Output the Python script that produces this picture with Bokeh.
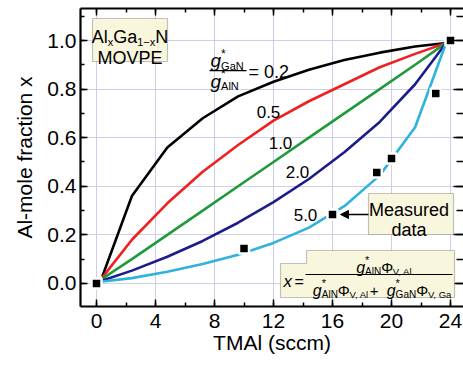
from bokeh.plotting import figure
from bokeh.models import (Range1d, LinearAxis, SingleIntervalTicker, PrintfTickFormatter,
                          Label, Arrow, NormalHead, PolyAnnotation, BoxAnnotation, ColumnDataSource)
from bokeh.embed import file_html
from bokeh.resources import INLINE

# ---------------- data ----------------
tmal = [0.4, 2.4, 4.8, 7.2, 9.6, 12.0, 14.4, 16.8, 19.2, 21.6, 23.7]
x_r02 = [0.03, 0.36, 0.56, 0.68, 0.77, 0.83, 0.88, 0.92, 0.95, 0.975, 0.99]
x_r05 = [0.025, 0.18, 0.33, 0.46, 0.57, 0.67, 0.75, 0.82, 0.89, 0.945, 0.99]
x_r10 = [0.02, 0.10, 0.20, 0.30, 0.40, 0.50, 0.60, 0.70, 0.80, 0.90, 0.99]
x_r20 = [0.012, 0.053, 0.11, 0.175, 0.25, 0.335, 0.43, 0.54, 0.665, 0.82, 0.99]
x_r50 = [0.008, 0.022, 0.048, 0.08, 0.118, 0.167, 0.23, 0.318, 0.445, 0.643, 0.99]
ratio_labels = ["0.2", "0.5", "1.0", "2.0", "5.0"]

meas_tmal = [0.0, 10.0, 16.0, 19.0, 20.0, 23.0, 24.0]
meas_x = [0.0, 0.144, 0.284, 0.457, 0.514, 0.782, 1.0]

x_ticks_interval = 4
y_ticks_interval = 0.2

FONT = "Liberation Sans"
COLORS = ["#000000", "#ee2020", "#1f9a3a", "#1c1c8c", "#2fb2dc"]
BOX_FILL = "#f8f6dc"
BOX_LINE = "#3a3a3a"

# ---------------- figure ----------------
X0, X1 = -1.085, 24.88
Y0, Y1 = -0.0947, 1.1317
p = figure(frame_width=383, frame_height=298,
           x_range=Range1d(X0, X1), y_range=Range1d(Y0, Y1),
           output_backend="svg", toolbar_location=None,
           min_border_left=80, min_border_right=0, min_border_top=8, min_border_bottom=40,
           background_fill_color="white", border_fill_color="white")
p.outline_line_color = None

# reference pixel -> data helpers (layout only)
def X(px):
    return (px - 96) / 14.75

def Y(py):
    return (283 - py) / 243.0

xt = SingleIntervalTicker(interval=x_ticks_interval, num_minor_ticks=2)
yt = SingleIntervalTicker(interval=y_ticks_interval, num_minor_ticks=2)

for ax in p.xaxis:
    ax.ticker = xt
for ax in p.yaxis:
    ax.ticker = yt
    ax.formatter = PrintfTickFormatter(format="%.1f")

def style_axis(ax, labels=True):
    ax.axis_line_width = 2.2
    ax.axis_line_color = "black"
    ax.major_tick_in = 7
    ax.major_tick_out = 0
    ax.minor_tick_in = 4
    ax.minor_tick_out = 0
    ax.major_tick_line_width = 1.5
    ax.minor_tick_line_width = 1.5
    ax.major_tick_line_color = "black"
    ax.minor_tick_line_color = "black"
    if labels:
        ax.major_label_text_font = FONT
        ax.major_label_text_font_size = "21px"
        ax.major_label_text_color = "black"
        ax.axis_label_text_font = FONT
        ax.axis_label_text_font_size = "21px"
        ax.axis_label_text_font_style = "normal"
        ax.axis_label_text_color = "black"
    else:
        ax.major_label_text_font_size = "0px"
        ax.major_label_standoff = 0

style_axis(p.xaxis[0])
style_axis(p.yaxis[0])
p.xaxis[0].axis_label = "TMAl (sccm)"
p.yaxis[0].axis_label = "Al-mole fraction x"
p.xaxis[0].major_label_standoff = 7
p.xaxis[0].axis_label_standoff = 0
p.yaxis[0].major_label_standoff = 4
p.yaxis[0].axis_label_standoff = 8

top_ax = LinearAxis(ticker=xt)
style_axis(top_ax, labels=False)
p.add_layout(top_ax, "above")
right_ax = LinearAxis(ticker=yt)
style_axis(right_ax, labels=False)
right_ax.axis_line_color = None
right_ax.major_tick_in = 10
right_ax.minor_tick_in = 7
p.add_layout(right_ax, "right")

p.xgrid.ticker = xt
p.ygrid.ticker = yt
p.grid.grid_line_color = "#cfcfea"
p.grid.grid_line_width = 1

# ---------------- curves ----------------
series = [x_r02, x_r05, x_r10, x_r20, x_r50]
for vals, col in zip(series, COLORS):
    p.line(tmal, vals, line_color=col, line_width=2.6)

src = ColumnDataSource(dict(t=meas_tmal, x=meas_x))
p.scatter("t", "x", source=src, marker="square", size=10, fill_color="black",
          line_color="white", line_width=2.5)

# ---------------- rich text helper ----------------
W = {'A': .667, 'l': .222, 'x': .5, 'G': .778, 'a': .556, '1': .556, '\u2212': .584,
     'N': .722, 'g': .556, '*': .389, '\u03a6': .78, 'V': .667, ',': .278, ' ': .278,
     '+': .584, '=': .584, 'M': .833, 'O': .778, 'P': .667, 'E': .667, '0': .556,
     '.': .278, '2': .556}

def seg_w(t, s):
    return sum(W.get(c, .556) for c in t) * s

def rich(segs, x_px, base_px, anchor="left"):
    total = sum(seg_w(t, s) for (t, s, dy, it, adv) in segs if adv)
    x = x_px - total / 2 if anchor == "center" else x_px
    for t, s, dy, it, adv in segs:
        p.add_layout(Label(x=X(x), y=Y(base_px + dy), text=t, text_font=FONT,
                           text_font_size=f"{s}px",
                           text_font_style="italic" if it else "normal",
                           text_baseline="alphabetic", text_align="left",
                           text_color="black"))
        if adv:
            x += seg_w(t, s)

# ---------------- AlGaN / MOVPE box ----------------
p.add_layout(BoxAnnotation(left=X(92), right=X(167), top=Y(18), bottom=Y(61),
                           fill_color=BOX_FILL, fill_alpha=1, line_color=BOX_LINE,
                           line_width=1.2, level="annotation"))
rich([("Al", 18, 0, False, True), ("x", 11, 5, False, True), ("Ga", 18, 0, False, True),
      ("1\u2212x", 11, 5, False, True), ("N", 18, 0, False, True)], 129.5, 36, "center")
rich([("MOVPE", 18, 0, False, True)], 129.5, 57, "center")

# ---------------- ratio fraction label ----------------
rich([("g", 19, 0, True, True), ("*", 12, -7, False, False), ("GaN", 11, 5, False, True)],
     210, 60)
p.add_layout(BoxAnnotation(left=X(209), right=X(246), top=Y(69.6), bottom=Y(70.8),
                           fill_color="black", fill_alpha=1, line_color=None))
rich([("g", 19, 0, True, True), ("*", 12, -7, False, False), ("AlN", 11, 5, False, True)],
     210, 81)
rich([("= " + ratio_labels[0], 18, 0, False, True)], 248, 72)

# curve labels
for txt, (cx, cy) in zip(ratio_labels[1:], [(268, 112), (280, 143), (297, 172), (305, 215)]):
    p.add_layout(Label(x=X(cx), y=Y(cy), text=txt, text_font=FONT, text_font_size="17px",
                       text_align="center", text_baseline="middle", text_color="black"))

# ---------------- Measured data box ----------------
p.add_layout(BoxAnnotation(left=X(368), right=X(453), top=Y(193), bottom=Y(234),
                           fill_color=BOX_FILL, fill_alpha=1, line_color=BOX_LINE,
                           line_width=1.2))
rich([("Measured", 18, 0, False, True)], 411, 210, "center")
rich([("data", 18, 0, False, True)], 411, 230, "center")
p.add_layout(Arrow(x_start=X(368), y_start=Y(214), x_end=X(340), y_end=Y(214),
                   line_width=1.6, line_color="black",
                   end=NormalHead(size=8, fill_color="black", line_color="black")))

# ---------------- formula box ----------------
p.add_layout(PolyAnnotation(xs=[X(280), X(306), X(306), X(454), X(454), X(280)],
                            ys=[Y(263), Y(263), Y(250), Y(250), Y(297), Y(297)],
                            fill_color=BOX_FILL, fill_alpha=1, line_color=BOX_LINE,
                            line_width=1.2))
rich([("x", 17, 0, True, True), (" ", 9, 0, False, True), ("=", 16, 0, False, True)], 283, 281)
p.add_layout(BoxAnnotation(left=X(305), right=X(452), top=Y(273.4), bottom=Y(274.6),
                           fill_color="black", fill_alpha=1, line_color=None))
rich([("g", 16, 0, True, True), ("*", 11, -7, False, False), ("AlN", 10, 4, False, True),
      ("\u03a6", 15, 0, False, True), ("V, Al", 9.5, 4, False, True)], 384, 267, "center")
rich([("g", 16, 0, True, True), ("*", 11, -7, False, False), ("AlN", 10, 4, False, True),
      ("\u03a6", 15, 0, False, True), ("V, Al", 9.5, 4, False, True),
      (" + ", 15, 0, False, True),
      ("g", 16, 0, True, True), ("*", 11, -7, False, False), ("GaN", 10, 4, False, True),
      ("\u03a6", 15, 0, False, True), ("V, Ga", 9.5, 4, False, True)], 382, 290, "center")

open("out.html", "w").write(file_html(p, INLINE))
